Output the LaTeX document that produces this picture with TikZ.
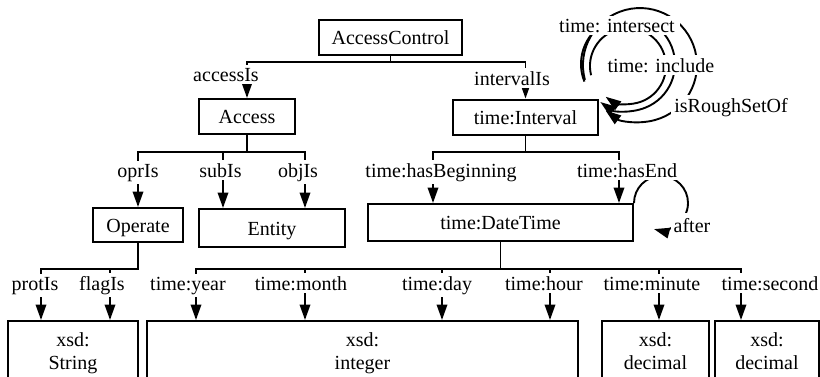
\documentclass[tikz,border=0pt]{standalone}
\usepackage{fontspec}
\setmainfont{Liberation Serif}
\usetikzlibrary{arrows.meta}
\begin{document}
\begin{tikzpicture}[x=1pt,y=1pt,
  txt/.style={font=\fontsize{20}{23}\selectfont},
  box/.style={txt, draw, line width=2pt, fill=white, inner sep=0pt, text height=14pt, text depth=0pt},
  dbox/.style={txt, draw, line width=2pt, fill=white, anchor=north, align=center, inner xsep=0pt, inner ysep=11.3pt},
  lbl/.style={txt, fill=white, inner sep=3pt, anchor=base},
  ln/.style={line width=1.9pt},
  arr/.style={ln, -{Triangle[length=15.5pt,width=10.5pt]}},
]
\useasboundingbox[fill=white] (0,0) rectangle (820,-376);

% boxes
\node[box, minimum width=143pt, minimum height=35pt] (ac) at (390.5,-37.5) {AccessControl};
\node[box, minimum width=96pt, minimum height=35pt] (acc) at (247,-116.5) {Access};
\node[box, minimum width=145pt, minimum height=35pt] (int) at (525.5,-117) {time:Interval};
\node[box, minimum width=90pt, minimum height=34pt] (op) at (138,-225) {Operate};
\node[box, minimum width=146pt, minimum height=38pt] (ent) at (272,-228) {Entity};
\node[box, minimum width=265pt, minimum height=37pt] (dt) at (500.5,-222.5) {time:DateTime};
\node[dbox, minimum width=130pt] (str) at (73,-320) {xsd:\\String};
\node[dbox, minimum width=431pt] (intg) at (362.5,-320) {xsd:\\integer};
\node[dbox, minimum width=107pt] (dec1) at (655.5,-320) {xsd:\\decimal};
\node[dbox, minimum width=104pt] (dec2) at (767,-320) {xsd:\\decimal};

% bus coordinates
\coordinate (j1) at (390.5,-62);
\coordinate (bB) at (0,-152);
\coordinate (e1) at (223,-152);
\coordinate (e2) at (305,-152);
\coordinate (c1) at (433,-152);
\coordinate (c2) at (619,-152);
\coordinate (d1) at (196,-269);
\coordinate (d2) at (305,-269);
\coordinate (d3) at (442,-269);
\coordinate (d4) at (550,-269);
\coordinate (d5) at (659,-269);
\coordinate (d6) at (741,-269);
\coordinate (f1) at (41,-269);
\coordinate (f2) at (110,-269);

% AccessControl
\draw[ln] (ac.south) -- (j1);
\draw[arr] (j1) -| (acc.north);
\draw[arr] (j1) -| (int.north);
% Access
\draw[arr] (acc.south) |- (op.north |- bB) -- (op.north);
\draw[arr] (acc.south |- bB) -| (e2 |- ent.north);
\draw[arr] (e1) -- (e1 |- ent.north);
% Interval
\draw[arr] (int.south) |- (c1) -- (c1 |- dt.north);
\draw[arr] (int.south |- c1) -| (c2 |- dt.north);
% DateTime
\draw[arr] (dt.south) |- (d1) -- (d1 |- intg.north);
\draw[arr] (dt.south |- d1) -| (d6 |- dec2.north);
\draw[arr] (d2) -- (d2 |- intg.north);
\draw[arr] (d3) -- (d3 |- intg.north);
\draw[arr] (d4) -- (d4 |- intg.north);
\draw[arr] (d5) -- (d5 |- dec1.north);
% Operate
\draw[arr] (op.south) |- (f1) -- (f1 |- str.north);
\draw[arr] (f2) -- (f2 |- str.north);

% self loops on time:Interval
\coordinate (s1) at (591.1,-75.2);
\coordinate (s2) at (584.4,-81.6);
\coordinate (s3) at (584.9,-79.8);
\draw[arr] (s1) arc[start angle=194, end angle=-126, radius=38pt];
\draw[arr] (s2) arc[start angle=202, end angle=-126, radius=47pt];
\draw[arr] (s3) arc[start angle=195, end angle=-127, radius=57pt];
% self loop on time:DateTime
\draw[arr] (dt.north east) arc[start angle=180, end angle=-105, radius=27pt];

% labels
\node[lbl] (laccess) at (226,-81) {accessIs};
\node[lbl] (linterval) at (512,-85) {intervalIs};
\node[lbl] (lopr) at (138,-177) {oprIs};
\node[lbl] (lsub) at (220.5,-177) {subIs};
\node[lbl] (lobj) at (298,-177) {objIs};
\node[lbl] (lbeg) at (441,-177) {time:hasBeginning};
\node[lbl] (lend) at (627,-177) {time:hasEnd};
\node[lbl] (lprot) at (35,-290) {protIs};
\node[lbl] (lflag) at (102,-290) {flagIs};
\node[lbl] (lyear) at (188,-290) {time:year};
\node[lbl] (lmonth) at (301,-290) {time:month};
\node[lbl] (lday) at (437,-290) {time:day};
\node[lbl] (lhour) at (544,-290) {time:hour};
\node[lbl] (lminute) at (652,-290) {time:minute};
\node[lbl] (lsecond) at (770,-290) {time:second};
\node[lbl, inner xsep=5pt] (lintersect) at (617,-32) {time: intersect};
\node[lbl] (linclude) at (661,-72) {time: include};
\node[lbl] (lrough) at (731,-112) {isRoughSetOf};
\node[lbl, inner ysep=5pt] (lafter) at (692,-232) {after};
\end{tikzpicture}
\end{document}
